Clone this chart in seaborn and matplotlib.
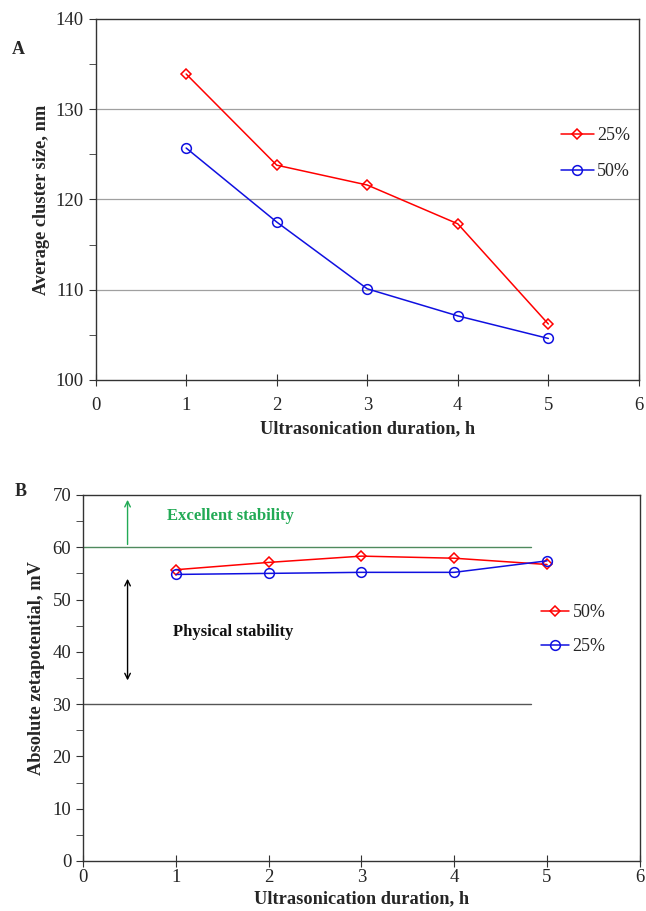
import numpy as np
import pandas as pd
import seaborn as sns
import matplotlib.pyplot as plt

# durée d'ultrasonication (h)
hours = [1, 2, 3, 4, 5]

# panneau A : taille moyenne des clusters (nm)
size_25 = [133.9, 123.8, 121.6, 117.3, 106.2]
size_50 = [125.7, 117.5, 110.1, 107.1, 104.6]

# panneau B : potentiel zêta absolu (mV)
zeta_50 = [55.7, 57.1, 58.3, 57.9, 56.7]
zeta_25 = [54.8, 55.0, 55.2, 55.2, 57.4]

sns.set_style("ticks")
plt.rcParams['font.family'] = ['Liberation Serif', 'DejaVu Serif']
plt.rcParams['xtick.labelsize'] = 13.5
plt.rcParams['ytick.labelsize'] = 13.5

fig = plt.figure(figsize=(6.46, 9.11), dpi=100)


def draw_series(ax, y, color, marker, label, ms):
    sns.lineplot(x=hours, y=y, ax=ax, color=color, marker=marker,
                 markersize=ms, markerfacecolor='none', markeredgecolor=color,
                 markeredgewidth=1.1, linewidth=1.1, label=label)


def style_axes(ax, xpad, labelpad):
    for s in ax.spines.values():
        s.set_color('#333333')
        s.set_linewidth(1.0)
    ax.tick_params(axis='y', which='both', direction='out', length=5, color='#333333')
    ax.tick_params(axis='x', which='major', direction='inout', length=9,
                   color='#333333', pad=xpad)
    ax.set_xlim(0, 6)
    ax.set_xticks(range(0, 7))
    ax.set_xlabel('Ultrasonication duration, h', fontsize=13.2,
                  fontweight='bold', labelpad=labelpad)


# ---- panneau A
ax1 = fig.add_axes([0.148, 0.5829, 0.841, 0.3963])
for yv in [110, 120, 130]:
    ax1.axhline(yv, color='#a0a0a0', linewidth=0.9, zorder=0)
draw_series(ax1, size_25, 'red', 'D', '25%', 5)
draw_series(ax1, size_50, '#1010e0', 'o', '50%', 7)
ax1.set_ylim(100, 140)
ax1.set_yticks(range(100, 141, 10))
ax1.set_yticks(range(105, 140, 10), minor=True)
ax1.set_ylabel('Average cluster size, nm', fontsize=13.2, fontweight='bold')
style_axes(ax1, 7.5, 5)
ax1.legend(loc='upper left', bbox_to_anchor=(0.827, 0.745), frameon=False,
           fontsize=13, handlelength=1.8, handletextpad=0.2, labelspacing=1.05)
fig.text(0.018, 0.946, 'A', fontsize=13, fontweight='bold', va='center')

# ---- panneau B
ax2 = fig.add_axes([0.1285, 0.0549, 0.862, 0.4018])
ax2.plot([0, 4.83], [60, 60], color='#4f8a5e', linewidth=1.0, zorder=1)
ax2.plot([0, 4.83], [30, 30], color='#555555', linewidth=1.0, zorder=1)
draw_series(ax2, zeta_50, 'red', 'D', '50%', 5)
draw_series(ax2, zeta_25, '#1010e0', 'o', '25%', 7)
ax2.annotate('', xy=(0.48, 69.6), xytext=(0.48, 60),
             arrowprops=dict(arrowstyle='->', color='#22aa55', lw=1.0))
ax2.annotate('', xy=(0.48, 54.5), xytext=(0.48, 34),
             arrowprops=dict(arrowstyle='<->', color='black', lw=1.0))
ax2.text(1.59, 66.0, 'Excellent stability', color='#22aa55', fontsize=12,
         fontweight='bold', ha='center', va='center')
ax2.text(1.62, 43.7, 'Physical stability', color='#111111', fontsize=12,
         fontweight='bold', ha='center', va='center')
ax2.set_ylim(0, 70)
ax2.set_yticks(range(0, 71, 10))
ax2.set_yticks(range(5, 70, 10), minor=True)
ax2.set_ylabel('Absolute zetapotential, mV', fontsize=13.2, fontweight='bold')
ax2.yaxis.set_label_coords(-0.068, 0.527)
style_axes(ax2, 1.5, 3)
ax2.legend(loc='upper left', bbox_to_anchor=(0.793, 0.746), frameon=False,
           fontsize=13, handlelength=1.55, handletextpad=0.2, labelspacing=0.95)
fig.text(0.023, 0.46, 'B', fontsize=13, fontweight='bold', va='center')

fig.savefig('out.png', dpi=100)
